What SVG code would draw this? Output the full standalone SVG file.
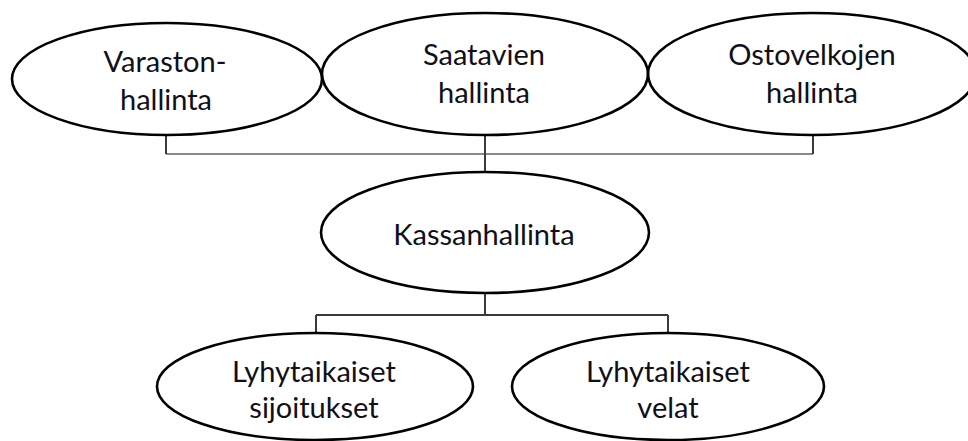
<svg xmlns="http://www.w3.org/2000/svg" width="968" height="441" viewBox="0 0 968 441">
<style>
.node ellipse{fill:none;stroke:#000;stroke-width:2.6}
.node text{font-family:Lato,"Liberation Sans",sans-serif;font-size:29px;fill:#101018;text-anchor:middle}
.conn{fill:none;stroke:#3a3a3a;stroke-width:2}
.conn.gray{stroke:#8a8a8a}
</style>
<rect width="968" height="441" fill="#fff"/>
<g id="connectors">
<path class="conn gray" d="M166 154H813"/>
<path class="conn" d="M166 135V154M485 135V173M813 135V154"/>
<path class="conn" d="M485 293V315M316 315H668M316 315V333M668 315V333"/>
</g>
<g id="varastonhallinta" class="node">
<ellipse cx="167" cy="79" rx="155" ry="56"/>
<text x="165" y="72">Varaston-</text>
<text x="166" y="110">hallinta</text>
</g>
<g id="saatavien" class="node">
<ellipse cx="485" cy="74" rx="163" ry="61"/>
<text x="484" y="65">Saatavien</text>
<text x="484" y="103">hallinta</text>
</g>
<g id="ostovelkojen" class="node">
<ellipse cx="812" cy="74" rx="164" ry="61"/>
<text x="812" y="65">Ostovelkojen</text>
<text x="812" y="103">hallinta</text>
</g>
<g id="kassanhallinta" class="node">
<ellipse cx="485" cy="232.5" rx="164" ry="60.5"/>
<text x="484" y="245">Kassanhallinta</text>
</g>
<g id="sijoitukset" class="node">
<ellipse cx="315" cy="386.5" rx="158" ry="53.5"/>
<text x="314" y="382">Lyhytaikaiset</text>
<text x="314" y="418">sijoitukset</text>
</g>
<g id="velat" class="node">
<ellipse cx="668" cy="386.5" rx="156" ry="53.5"/>
<text x="668" y="382">Lyhytaikaiset</text>
<text x="668" y="418">velat</text>
</g>
</svg>
